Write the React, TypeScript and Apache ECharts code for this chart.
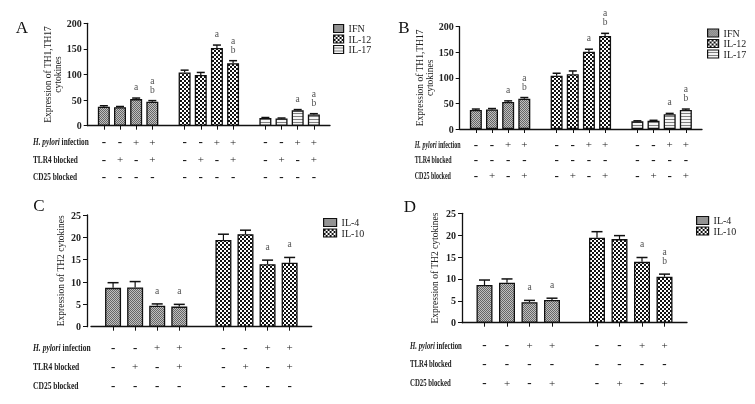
import React, { useEffect, useRef } from 'react';
import * as echarts from 'echarts';

const FONT = 'Liberation Serif';

// ---------- Panel A: TH1/TH17, TLR4 blocked ----------
const A_IFN = [37, 36, 52, 47];
const A_IFN_ERR = [2, 1.5, 2, 2];
const A_IL12 = [104, 99, 152, 122];
const A_IL12_ERR = [4.5, 5, 5.5, 5];
const A_IL17 = [15, 14, 30, 22];
const A_IL17_ERR = [1, 1, 1.5, 1.5];
const A_MARKS = ['', '', 'a', 'a\nb'];
const A_HPYLORI = ['-', '-', '+', '+'];
const A_TLR4 = ['-', '+', '-', '+'];
const A_CD25 = ['-', '-', '-', '-'];

// ---------- Panel B: TH1/TH17, CD25 blocked ----------
const B_IFN = [37, 38, 53, 59];
const B_IFN_ERR = [2, 2, 2, 2.5];
const B_IL12 = [104, 107, 151, 182];
const B_IL12_ERR = [5, 6.5, 5, 5];
const B_IL17 = [15, 16, 29, 37];
const B_IL17_ERR = [1, 1, 1.5, 2];
const B_MARKS = ['', '', 'a', 'a\nb'];
const B_HPYLORI = ['-', '-', '+', '+'];
const B_TLR4 = ['-', '-', '-', '-'];
const B_CD25 = ['-', '+', '-', '+'];

// ---------- Panel C: TH2, TLR4 blocked ----------
const C_IL4 = [8.7, 8.8, 4.7, 4.5];
const C_IL4_ERR = [1.15, 1.3, 0.4, 0.5];
const C_IL10 = [19.4, 20.7, 14.0, 14.3];
const C_IL10_ERR = [1.3, 0.9, 0.9, 1.2];
const C_IL4_MARKS = ['', '', 'a', 'a'];
const C_IL10_MARKS = ['', '', 'a', 'a'];
const C_HPYLORI = ['-', '-', '+', '+'];
const C_TLR4 = ['-', '+', '-', '+'];
const C_CD25 = ['-', '-', '-', '-'];

// ---------- Panel D: TH2, CD25 blocked ----------
const D_IL4 = [8.6, 9.15, 4.7, 5.2];
const D_IL4_ERR = [1.15, 0.85, 0.4, 0.4];
const D_IL10 = [19.4, 19.1, 13.9, 10.5];
const D_IL10_ERR = [1.4, 0.8, 1.0, 0.6];
const D_IL4_MARKS = ['', '', 'a', 'a'];
const D_IL10_MARKS = ['', '', 'a', 'a\nb'];
const D_HPYLORI = ['-', '-', '+', '+'];
const D_TLR4 = ['-', '-', '-', '-'];
const D_CD25 = ['-', '+', '-', '+'];

const ROW_TITLES = ['H. pylori infection', 'TLR4 blocked', 'CD25 blocked'];
const Y_NAME_TH1 = 'Expression of TH1,TH17\ncytokines';
const Y_NAME_TH2 = 'Expression of TH2 cytokines';

type Pat = 'fine' | 'coarse' | 'stripe';
type Group = { name: string; values: number[]; errs: number[]; marks: string[]; pattern: Pat };
type Panel = {
  letter: string;
  letterX: number;
  letterY: number;
  grid: { left: number; top: number; width: number; height: number };
  yOffset: number;
  yMax: number;
  yInterval: number;
  yName: string;
  nameGap: number;
  barWidth: number;
  capW: number;
  markDist: number;
  rowLH: number;
  rowMargin: number;
  rowTitleX: number;
  rowTitleW: number;
  legendLeft: number;
  legendTop: number;
  legendW: number;
  groups: Group[];
  signs: string[][];
};

function makePatterns() {
  const mk = (w: number, h: number, draw: (c: CanvasRenderingContext2D) => void) => {
    const c = document.createElement('canvas');
    c.width = w;
    c.height = h;
    const ctx = c.getContext('2d')!;
    draw(ctx);
    return { image: c.toDataURL(), repeat: 'repeat', imageWidth: w, imageHeight: h };
  };
  return {
    fine: () =>
      mk(2, 2, (ctx) => {
        ctx.fillStyle = '#c0c0c0';
        ctx.fillRect(0, 0, 2, 2);
        ctx.fillStyle = '#666666';
        ctx.fillRect(0, 0, 1, 1);
        ctx.fillRect(1, 1, 1, 1);
      }),
    coarse: () =>
      mk(4, 4, (ctx) => {
        ctx.fillStyle = '#ffffff';
        ctx.fillRect(0, 0, 4, 4);
        ctx.fillStyle = '#111111';
        ctx.fillRect(0, 0, 2, 2);
        ctx.fillRect(2, 2, 2, 2);
      }),
    stripe: () =>
      mk(1, 3, (ctx) => {
        ctx.fillStyle = '#f4f4f4';
        ctx.fillRect(0, 0, 1, 3);
        ctx.fillStyle = '#808080';
        ctx.fillRect(0, 2, 1, 1);
      }),
  };
}

function measure(text: string, font: string) {
  const c = document.createElement('canvas');
  const ctx = c.getContext('2d')!;
  ctx.font = font;
  return ctx.measureText(text).width;
}

const PANELS: Panel[] = [
  {
    letter: 'A', letterX: 22, letterY: 27,
    grid: { left: 87.7, top: 23.3, width: 242.3, height: 102.4 },
    yOffset: 0, yMax: 200, yInterval: 50, yName: Y_NAME_TH1, nameGap: 21.5,
    barWidth: 12, capW: 8, markDist: 6, rowLH: 17.5, rowMargin: 7.5, rowTitleX: 33, rowTitleW: 57,
    legendLeft: 333, legendTop: 23.5, legendW: 10,
    groups: [
      { name: 'IFN', values: A_IFN, errs: A_IFN_ERR, marks: A_MARKS, pattern: 'fine' },
      { name: 'IL-12', values: A_IL12, errs: A_IL12_ERR, marks: A_MARKS, pattern: 'coarse' },
      { name: 'IL-17', values: A_IL17, errs: A_IL17_ERR, marks: A_MARKS, pattern: 'stripe' },
    ],
    signs: [A_HPYLORI, A_TLR4, A_CD25],
  },
  {
    letter: 'B', letterX: 404, letterY: 27,
    grid: { left: 459.7, top: 26.7, width: 242.3, height: 102.3 },
    yOffset: 0, yMax: 200, yInterval: 50, yName: Y_NAME_TH1, nameGap: 25,
    barWidth: 12, capW: 8, markDist: 6, rowLH: 15.4, rowMargin: 7.6, rowTitleX: 414.7, rowTitleW: 47,
    legendLeft: 707, legendTop: 28, legendW: 11,
    groups: [
      { name: 'IFN', values: B_IFN, errs: B_IFN_ERR, marks: B_MARKS, pattern: 'fine' },
      { name: 'IL-12', values: B_IL12, errs: B_IL12_ERR, marks: B_MARKS, pattern: 'coarse' },
      { name: 'IL-17', values: B_IL17, errs: B_IL17_ERR, marks: B_MARKS, pattern: 'stripe' },
    ],
    signs: [B_HPYLORI, B_TLR4, B_CD25],
  },
  {
    letter: 'C', letterX: 39, letterY: 205,
    grid: { left: 91, top: 215, width: 220.7, height: 111.7 },
    yOffset: 4, yMax: 25, yInterval: 5, yName: Y_NAME_TH2, nameGap: 21,
    barWidth: 16, capW: 11, markDist: 8, rowLH: 19, rowMargin: 11, rowTitleX: 33, rowTitleW: 59,
    legendLeft: 323, legendTop: 217.5, legendW: 13,
    groups: [
      { name: 'IL-4', values: C_IL4, errs: C_IL4_ERR, marks: C_IL4_MARKS, pattern: 'fine' },
      { name: 'IL-10', values: C_IL10, errs: C_IL10_ERR, marks: C_IL10_MARKS, pattern: 'coarse' },
    ],
    signs: [C_HPYLORI, C_TLR4, C_CD25],
  },
  {
    letter: 'D', letterX: 410, letterY: 206,
    grid: { left: 462, top: 213.3, width: 225, height: 109.4 },
    yOffset: 0, yMax: 25, yInterval: 5, yName: Y_NAME_TH2, nameGap: 22,
    barWidth: 16, capW: 11, markDist: 8, rowLH: 18.8, rowMargin: 12.9, rowTitleX: 410, rowTitleW: 53,
    legendLeft: 696, legendTop: 215.5, legendW: 12,
    groups: [
      { name: 'IL-4', values: D_IL4, errs: D_IL4_ERR, marks: D_IL4_MARKS, pattern: 'fine' },
      { name: 'IL-10', values: D_IL10, errs: D_IL10_ERR, marks: D_IL10_MARKS, pattern: 'coarse' },
    ],
    signs: [D_HPYLORI, D_TLR4, D_CD25],
  },
];

function buildOption() {
  const pats = makePatterns();
  const grids: any[] = [];
  const xAxes: any[] = [];
  const yAxes: any[] = [];
  const series: any[] = [];
  const legends: any[] = [];
  const graphics: any[] = [];
  const TITLE_SIZE = 10.5;
  const titleW = measure(ROW_TITLES[0], `bold ${TITLE_SIZE}px "${FONT}"`);

  PANELS.forEach((p, pi) => {
    const cats: string[] = [''];
    const labels: string[] = [''];
    p.groups.forEach((g) => {
      for (let j = 0; j < 4; j++) {
        cats.push(`${g.name} ${j + 1}`);
        labels.push(p.signs.map((s) => (s[j] === '+' ? '{p|+}' : '{m|-}')).join('\n'));
      }
      cats.push('');
      labels.push('');
    });
    const isBar = (_i: number, v: string) => v !== '';

    grids.push({ ...p.grid, containLabel: false });
    xAxes.push({
      type: 'category',
      gridIndex: pi,
      data: cats,
      boundaryGap: false,
      axisLine: { lineStyle: { color: '#111', width: 1.3 } },
      axisTick: { interval: isBar, length: 4, lineStyle: { color: '#111', width: 1 } },
      axisLabel: {
        interval: isBar,
        margin: p.rowMargin,
        lineHeight: p.rowLH,
        formatter: (_v: string, idx: number) => labels[idx] ?? '',
        rich: {
          m: { fontFamily: FONT, fontSize: 13, fontWeight: 'bold', color: '#111', lineHeight: p.rowLH },
          p: { fontFamily: FONT, fontSize: 11, color: '#222', lineHeight: p.rowLH },
        },
      },
      splitLine: { show: false },
    });
    yAxes.push({
      type: 'value',
      gridIndex: pi,
      min: 0,
      max: p.yMax,
      interval: p.yInterval,
      offset: p.yOffset,
      name: p.yName,
      nameLocation: 'middle',
      nameGap: p.nameGap,
      nameTextStyle: { fontFamily: FONT, fontSize: 9.5, lineHeight: 10, color: '#222' },
      axisLine: { show: true, lineStyle: { color: '#111', width: 1.3 } },
      axisTick: { show: true, length: 4, lineStyle: { color: '#111', width: 1 } },
      axisLabel: { fontFamily: FONT, fontSize: 10, fontWeight: 'bold', color: '#222', margin: 6 },
      splitLine: { show: false },
    });

    const errRows: { idx: number; v: number; e: number; m: string }[] = [];
    p.groups.forEach((g, gi) => {
      const data: (number | null)[] = cats.map(() => null);
      g.values.forEach((v, j) => {
        const idx = 1 + gi * 5 + j;
        data[idx] = v;
        errRows.push({ idx, v, e: g.errs[j], m: g.marks[j] });
      });
      series.push({
        type: 'bar',
        name: g.name,
        xAxisIndex: pi,
        yAxisIndex: pi,
        data,
        barWidth: p.barWidth,
        barGap: '-100%',
        itemStyle: { color: (pats as any)[g.pattern](), borderColor: '#111', borderWidth: 1.3 },
        emphasis: { disabled: true },
        z: 2,
      });
    });

    // error bars (upper whisker with cap)
    series.push({
      type: 'custom',
      name: 'err' + pi,
      xAxisIndex: pi,
      yAxisIndex: pi,
      z: 5,
      silent: true,
      data: errRows.map((r) => [r.idx, r.v, r.e]),
      renderItem: (params: any, api: any) => {
        const r = errRows[params.dataIndex];
        const base = api.coord([r.idx, r.v]);
        const top = api.coord([r.idx, r.v + r.e]);
        const cx = base[0];
        const half = p.capW / 2;
        return {
          type: 'group',
          children: [
            { type: 'line', shape: { x1: cx, y1: base[1], x2: cx, y2: top[1] }, style: { stroke: '#111', lineWidth: 1.2 } },
            { type: 'line', shape: { x1: cx - half, y1: top[1], x2: cx + half, y2: top[1] }, style: { stroke: '#111', lineWidth: 1.5 } },
          ],
        };
      },
    });

    // significance letters above the whiskers
    const marked = errRows.filter((r) => r.m);
    series.push({
      type: 'scatter',
      name: 'marks' + pi,
      xAxisIndex: pi,
      yAxisIndex: pi,
      z: 6,
      silent: true,
      symbolSize: 1,
      itemStyle: { color: 'rgba(0,0,0,0)' },
      data: marked.map((r) => [r.idx, r.v + r.e]),
      label: {
        show: true,
        position: 'top',
        distance: p.markDist,
        formatter: (prm: any) => marked[prm.dataIndex].m,
        color: '#222',
        fontFamily: FONT,
        fontSize: 9.5,
        lineHeight: 9,
      },
    });

    legends.push({
      orient: 'vertical',
      left: p.legendLeft,
      top: p.legendTop,
      padding: 0,
      itemWidth: p.legendW,
      itemHeight: 8,
      itemGap: 0.5,
      icon: 'rect',
      selectedMode: false,
      data: p.groups.map((g) => g.name),
      itemStyle: { borderColor: '#111', borderWidth: 1.2 },
      textStyle: { fontFamily: FONT, fontSize: 10, lineHeight: 10, color: '#222' },
    });

    graphics.push({
      type: 'text',
      x: p.letterX,
      y: p.letterY,
      style: { text: p.letter, fontFamily: FONT, fontSize: 17, fill: '#111', align: 'center', verticalAlign: 'middle' },
    });
    const rowBase = p.grid.top + p.grid.height + p.rowMargin;
    const sx = titleW > 0 ? p.rowTitleW / titleW : 1;
    ROW_TITLES.forEach((t, ri) => {
      const y = rowBase + p.rowLH * (ri + 0.5);
      const text = ri === 0 ? '{i|H. pylori}{n| infection}' : `{n|${t}}`;
      graphics.push({
        type: 'text',
        x: p.rowTitleX,
        y,
        scaleX: sx,
        style: {
          text,
          align: 'left',
          verticalAlign: 'middle',
          fill: '#222',
          fontFamily: FONT,
          fontSize: TITLE_SIZE,
          rich: {
            i: { fontFamily: FONT, fontSize: TITLE_SIZE, fontStyle: 'italic', fontWeight: 'bold', fill: '#222' },
            n: { fontFamily: FONT, fontSize: TITLE_SIZE, fontWeight: 'bold', fill: '#222' },
          },
        },
      });
    });
  });

  return {
    animation: false,
    backgroundColor: '#ffffff',
    color: ['#222'],
    grid: grids,
    xAxis: xAxes,
    yAxis: yAxes,
    legend: legends,
    series,
    graphic: graphics,
  };
}

export default function App() {
  const ref = useRef<HTMLDivElement>(null);
  useEffect(() => {
    if (!ref.current) return;
    const chart = echarts.init(ref.current, null, { renderer: 'svg' });
    chart.setOption(buildOption() as any);
    return () => chart.dispose();
  }, []);
  return (
    <div
      ref={ref}
      style={{
        position: 'fixed',
        left: 0,
        top: 0,
        width: 755,
        height: 404,
        background: '#fff',
        filter: 'grayscale(1)',
      }}
    />
  );
}
